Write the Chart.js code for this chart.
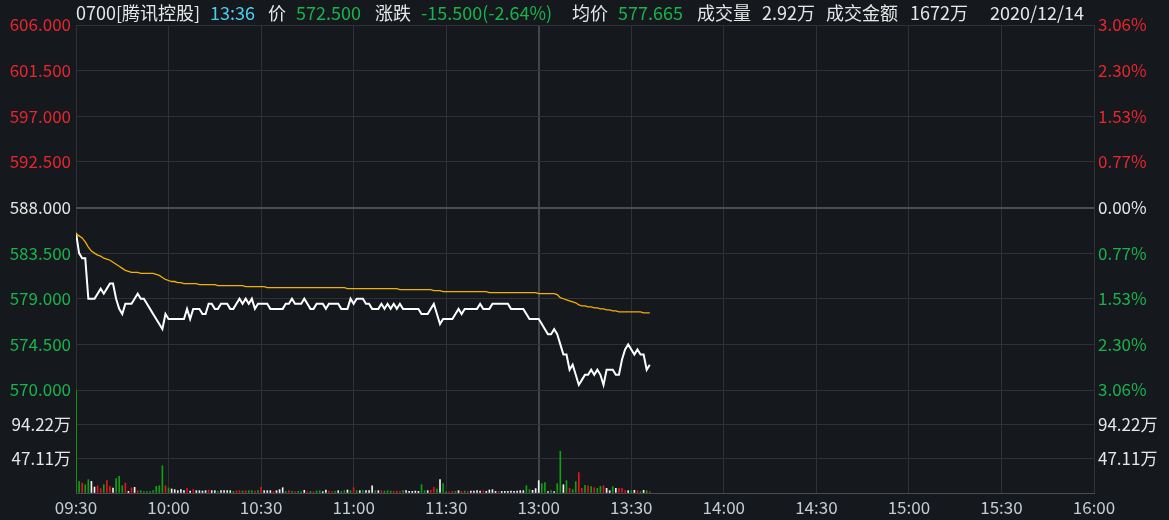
<!DOCTYPE html>
<html>
<head>
<meta charset="utf-8">
<script src="https://cdn.jsdelivr.net/npm/chart.js"></script>
<style>
  body { margin: 0; background: #15181d; overflow: hidden; }
  #wrap { position: relative; width: 1169px; height: 520px; }
  #head span { position: absolute; top: 0; line-height: 24px; font-size: 18px; white-space: nowrap;
    font-family: "Noto Sans CJK SC", "Noto Sans", sans-serif; color: #e6e6e6; }
  #head .g { color: #19b34d; }
  #head .c { color: #4fcdf0; }
</style>
</head>
<body>
<div id="wrap">
  <canvas id="chart" width="1169" height="520"></canvas>
  <div id="head">
    <span style="left:76px">0700[腾讯控股]</span>
    <span class="c" style="left:210px">13:36</span>
    <span style="left:268px">价</span>
    <span class="g" style="left:296px">572.500</span>
    <span style="left:375px">涨跌</span>
    <span class="g" style="left:421px">-15.500(-2.64%)</span>
    <span style="left:572px">均价</span>
    <span class="g" style="left:618px">577.665</span>
    <span style="left:697px">成交量</span>
    <span style="left:762px">2.92万</span>
    <span style="left:826px">成交金额</span>
    <span style="left:910px">1672万</span>
    <span style="left:990px">2020/12/14</span>
  </div>
</div>
<script>
// time axis: one slot per trading minute, 09:30-11:30 + 13:00-16:00
const timeLabels = ['09:30', '10:00', '10:30', '11:00', '11:30', '13:00', '13:30', '14:00', '14:30', '15:00', '15:30', '16:00'];
const prevClose = 588;

// last price per minute
const price = [
  585.5, 583.5, 583, 583, 579, 579, 579, 579.5, 580, 579.5,
  580, 580.5, 580.5, 579, 578, 577.5, 578.5, 578.5, 578.5, 579,
  579.5, 579, 579, 578.5, 578, 577.5, 577, 576.5, 576, 577.5,
  577, 577, 577, 577, 577, 577, 578, 577, 578, 578,
  578, 577.5, 577.5, 578.5, 578.5, 578, 578, 578.5, 578.5, 578.5,
  578, 578, 578.5, 579, 578.5, 579, 578.5, 579, 578, 578.5,
  578.5, 578.5, 578.5, 578, 578, 578, 578, 578, 578.5, 578.5,
  579, 578.5, 578.5, 578.5, 579, 578.5, 578, 578, 578.5, 578.5,
  578.5, 578, 578.5, 578.5, 578.5, 578.5, 578, 578, 578, 579,
  578.5, 579, 579, 579, 578.5, 578.5, 578, 578, 578, 578.5,
  578, 578.5, 578, 578.5, 578, 578.5, 578, 578, 578, 578,
  578, 578, 577.5, 577.5, 577.5, 578, 578.5, 577.5, 576.5, 577,
  577, 577, 577, 577.5, 578, 577.5, 578, 578, 578, 578,
  578, 578.5, 578, 578, 578, 578.5, 578.5, 578.5, 578.5, 578.5,
  578.5, 578, 578, 578, 578, 578, 577.5, 577, 577, 577,
  577, 576.5, 576, 575.5, 575.5, 576, 575.5, 574.5, 573.5, 573.5,
  572, 572.5, 571.5, 570.5, 571, 571.5, 571.5, 572, 571.5, 572,
  571.5, 570.5, 572, 572, 572, 571.5, 571.5, 573, 574, 574.5,
  574, 573.5, 574, 573.5, 573.5, 572, 572.5
];

// average price per minute
const avgPrice = [
  585.4, 585.2, 585.0, 584.6, 584.1, 583.7, 583.5, 583.3, 583.2, 583.0,
  582.9, 582.8, 582.6, 582.4, 582.2, 582.0, 581.8, 581.7, 581.6, 581.6,
  581.6, 581.5, 581.5, 581.5, 581.5, 581.5, 581.4, 581.3, 581.1, 580.9,
  580.8, 580.7, 580.7, 580.6, 580.6, 580.5, 580.5, 580.5, 580.5, 580.5,
  580.4, 580.4, 580.4, 580.4, 580.4, 580.4, 580.3, 580.3, 580.3, 580.3,
  580.3, 580.3, 580.3, 580.3, 580.3, 580.2, 580.2, 580.2, 580.2, 580.2,
  580.2, 580.2, 580.1, 580.1, 580.1, 580.1, 580.1, 580.1, 580.1, 580.1,
  580.1, 580.1, 580.1, 580.1, 580.1, 580.1, 580.1, 580.1, 580.1, 580.1,
  580.1, 580.1, 580.1, 580.1, 580.1, 580.1, 580.1, 580.1, 580.0, 580.0,
  580.0, 580.0, 580.0, 580.0, 580.0, 580.0, 580.0, 580.0, 580.0, 580.0,
  580.0, 580.0, 580.0, 580.0, 580.0, 579.9, 579.9, 579.9, 579.9, 579.9,
  579.9, 579.9, 579.9, 579.9, 579.9, 579.9, 579.8, 579.8, 579.8, 579.7,
  579.7, 579.7, 579.7, 579.7, 579.7, 579.7, 579.7, 579.7, 579.7, 579.7,
  579.7, 579.7, 579.7, 579.7, 579.6, 579.6, 579.6, 579.6, 579.6, 579.6,
  579.6, 579.6, 579.6, 579.6, 579.6, 579.6, 579.6, 579.6, 579.6, 579.6,
  579.5, 579.5, 579.5, 579.5, 579.5, 579.5, 579.4, 579.1, 579.0, 578.9,
  578.8, 578.7, 578.6, 578.4, 578.3, 578.3, 578.2, 578.2, 578.1, 578.1,
  578.0, 578.0, 577.9, 577.9, 577.8, 577.8, 577.7, 577.7, 577.7, 577.7,
  577.7, 577.7, 577.7, 577.7, 577.6, 577.6, 577.6
];

// volume per minute, in 万
const volume = [
  140.5, 16, 13.7, 11.4, 18.3, 16, 8.2, 10, 6, 11.4,
  17, 9.2, 6.9, 19.7, 22.9, 10, 13.7, 2.3, 6.9, 7.8,
  3.2, 3.2, 1.8, 1.8, 1.8, 3.2, 9.2, 10, 37.5, 10,
  6.9, 5.5, 4.6, 3.2, 4.6, 3.2, 6.4, 2.7, 5, 3.2,
  3.2, 2.7, 3.2, 4.1, 3.2, 3.2, 2.3, 3.2, 3.2, 3.2,
  3.2, 2.3, 3.2, 3.2, 2.7, 3.2, 3.2, 3.2, 2.7, 3.2,
  7.8, 3.2, 3.2, 3.2, 2.3, 3.2, 4.6, 7.3, 2.3, 3.2,
  2.3, 1.8, 2.3, 1.8, 3.7, 1.8, 2.3, 1.8, 2.7, 3.2,
  1.8, 4.1, 2.7, 1.8, 2.3, 3.2, 2.3, 3.2, 4.1, 3.2,
  7.3, 3.2, 3.2, 3.2, 3.2, 3.2, 10, 3.2, 3.2, 3.2,
  2.7, 3.2, 2.7, 2.3, 2.7, 2.3, 3.2, 3.2, 2.3, 2.3,
  2.7, 2.3, 11.4, 3.2, 3.2, 3.7, 7.8, 5.5, 18.3, 12.8,
  1.8, 1.8, 2.3, 2.3, 3.2, 2.3, 2.7, 2.3, 2.7, 2.7,
  3.2, 2.7, 3.2, 2.3, 4.1, 4.6, 2.3, 2.3, 2.3, 2.3,
  2.3, 2.7, 2.3, 2.7, 3.2, 3.2, 10, 4.6, 3.7, 6,
  17, 12.8, 14.2, 1.8, 3.2, 1.8, 12.8, 57.2, 11.4, 17,
  6.4, 4.6, 15.6, 27.9, 6.4, 10.5, 10, 8.7, 7.3, 6.4,
  9.2, 10, 6.4, 3.2, 8.7, 6.4, 6.4, 6.4, 3.2, 3.2,
  3.2, 3.7, 3.2, 1.8, 3.7, 3.2, 1.8
];

// tick direction of each volume bar: 1 up, -1 down, 0 flat
const volDir = [
  -1, -1, 1, -1, -1, 0, 0, 1, 1, -1,
  1, 1, 0, -1, -1, -1, 1, 0, 1, 0,
  1, -1, -1, -1, -1, -1, -1, -1, -1, 1,
  -1, 0, 0, 0, 0, 0, 1, 0, 1, 0,
  0, 0, 0, 1, 0, 0, -1, 0, 0, 0,
  0, -1, 1, 1, -1, 1, -1, -1, 1, -1,
  1, 0, 0, 0, 1, 0, 0, 0, -1, 1,
  -1, 1, -1, -1, 0, 1, -1, 1, -1, -1,
  0, 0, 1, 1, -1, 0, -1, -1, 0, -1,
  1, -1, 0, -1, 0, 0, 0, -1, 0, 1,
  -1, -1, -1, 1, 1, 1, -1, 0, 0, 0,
  0, 0, -1, -1, 0, 1, 1, -1, 0, -1,
  -1, 1, 1, -1, 0, 1, -1, 1, 0, 0,
  0, 0, 1, 0, 0, 0, 0, 1, 0, 0,
  0, 0, 0, 0, 0, 0, -1, -1, 0, 0,
  0, -1, -1, 0, -1, 0, -1, -1, 0, -1,
  1, -1, -1, 1, 1, -1, 1, -1, 1, -1,
  -1, 1, 0, 0, -1, 0, 1, 1, 1, 0,
  -1, 0, 1, -1, 0, -1, 1
];

const priceMin = 570, priceMax = 606, priceStep = 4.5;
const volStep = 47.11;

const RED = '#e8262d', GREEN = '#19b34d', WHITE = '#e6e6e6';
const GRID = '#2f3136';

Chart.defaults.font.family = '"Noto Sans CJK SC", "Noto Sans", sans-serif';
Chart.defaults.font.size = 17;

const priceColor = v => (Math.abs(v - prevClose) < 1e-6 ? WHITE : v > prevClose ? RED : GREEN);
const volLabel = v => (v > 1 && v < volStep * 2.5 ? v.toFixed(2) + '万' : '');

new Chart(document.getElementById('chart'), {
  type: 'line',
  data: {
    datasets: [
      {
        label: '成交量',
        type: 'bar',
        data: volume.map((v, i) => ({ x: i, y: v })),
        backgroundColor: volDir.map(d => (d > 0 ? '#e3141c' : d < 0 ? '#12a012' : '#f2f2f2')),
        barThickness: 1,
        xAxisID: 'x',
        yAxisID: 'yVol'
      },
      {
        label: '均价',
        data: avgPrice.map((v, i) => ({ x: i, y: v })),
        borderColor: '#f2b000',
        borderWidth: 1.3,
        pointRadius: 0,
        tension: 0,
        yAxisID: 'yPrice'
      },
      {
        label: '价',
        data: price.map((v, i) => ({ x: i, y: v })),
        borderColor: '#ffffff',
        borderWidth: 2,
        pointRadius: 0,
        tension: 0,
        yAxisID: 'yPrice'
      }
    ]
  },
  options: {
    responsive: false,
    animation: false,
    events: [],
    layout: { padding: { top: 25, left: 0, right: 0, bottom: 0 } },
    plugins: { legend: { display: false }, tooltip: { enabled: false } },
    scales: {
      x: {
        type: 'linear',
        min: 0,
        max: 330,
        offset: false,
        afterFit: s => { s.height = 27; },
        border: { display: true, color: '#4a4c51' },
        grid: {
          offset: false,
          drawTicks: false,
          color: c => (c.tick && c.tick.value === 150 ? '#44464b' : GRID),
          lineWidth: c => (c.tick && c.tick.value === 150 ? 2 : 1)
        },
        ticks: {
          stepSize: 30,
          autoSkip: false,
          maxRotation: 0,
          padding: 4,
          color: '#c3cbd5',
          callback: v => timeLabels[v / 30]
        }
      },
      yVol: {
        position: 'left',
        stack: 'panel',
        stackWeight: 103,
        min: 0,
        max: volStep * 3,
        afterFit: s => { s.width = 76; },
        border: { display: false },
        grid: { drawTicks: false, color: GRID },
        ticks: { stepSize: volStep, autoSkip: false, padding: 5, color: WHITE, callback: volLabel }
      },
      yPrice: {
        position: 'left',
        stack: 'panel',
        stackWeight: 365,
        min: priceMin,
        max: priceMax,
        afterFit: s => { s.width = 76; },
        border: { display: false },
        grid: {
          drawTicks: false,
          color: c => (c.tick && c.tick.value === prevClose ? '#4b4d52' : GRID),
          lineWidth: c => (c.tick && c.tick.value === prevClose ? 2 : 1)
        },
        ticks: {
          stepSize: priceStep,
          autoSkip: false,
          padding: 5,
          color: c => priceColor(c.tick.value),
          callback: v => v.toFixed(3)
        }
      },
      yPct: {
        position: 'right',
        stack: 'panel',
        stackWeight: 365,
        min: priceMin,
        max: priceMax,
        afterFit: s => { s.width = 75; },
        border: { display: false },
        grid: { display: false, drawTicks: false },
        ticks: {
          stepSize: priceStep,
          autoSkip: false,
          padding: 4,
          color: c => priceColor(c.tick.value),
          callback: v => Math.abs((v - prevClose) / prevClose * 100).toFixed(2) + '%'
        }
      },
      yVolR: {
        position: 'right',
        stack: 'panel',
        stackWeight: 103,
        min: 0,
        max: volStep * 3,
        afterFit: s => { s.width = 75; },
        border: { display: false },
        grid: { display: false, drawTicks: false },
        ticks: { stepSize: volStep, autoSkip: false, padding: 4, color: WHITE, callback: volLabel }
      }
    }
  }
});
</script>
</body>
</html>
